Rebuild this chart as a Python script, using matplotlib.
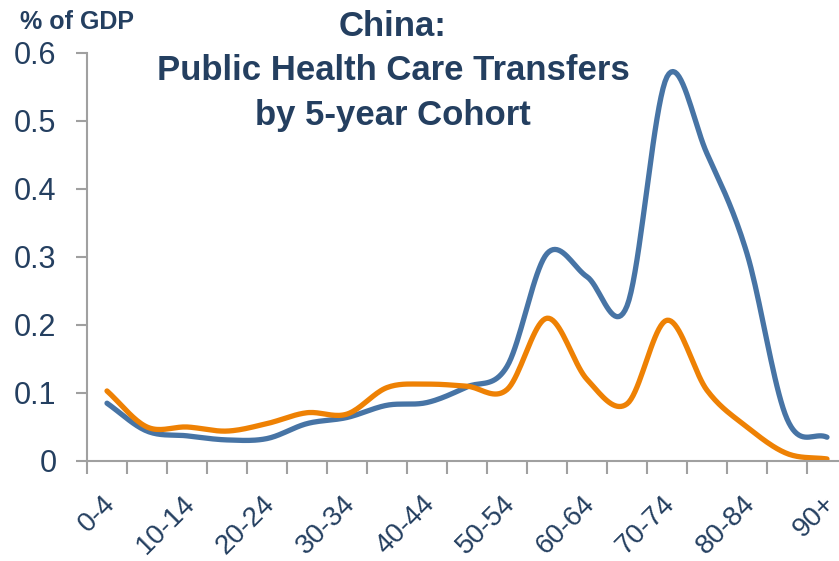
import numpy as np
import matplotlib
matplotlib.use("Agg")
import matplotlib.pyplot as plt
from matplotlib.transforms import ScaledTranslation

plt.rcParams['font.family'] = ['Liberation Sans', 'DejaVu Sans']

# age cohorts
cohorts = ['0-4', '5-9', '10-14', '15-19', '20-24', '25-29', '30-34', '35-39', '40-44', '45-49',
           '50-54', '55-59', '60-64', '65-69', '70-74', '75-79', '80-84', '85-89', '90+']
# blue series (% of GDP)
blue = [0.085, 0.044, 0.037, 0.031, 0.033, 0.055, 0.064, 0.082, 0.086, 0.109,
        0.139, 0.305, 0.271, 0.228, 0.565, 0.452, 0.305, 0.062, 0.035]
# orange series (% of GDP)
orange = [0.103, 0.050, 0.050, 0.044, 0.055, 0.071, 0.069, 0.108, 0.113, 0.110,
          0.105, 0.210, 0.120, 0.084, 0.207, 0.104, 0.050, 0.011, 0.003]

BLUE = '#4774A5'
ORANGE = '#EE8104'
NAVY = '#243F60'
GRID = '#A0A0A0'


def smooth(y, n=20):
    # catmull-rom curve through the points, like excel's smoothed line
    y = np.asarray(y, float)
    x = np.arange(len(y), dtype=float)
    px = np.concatenate([[2 * x[0] - x[1]], x, [2 * x[-1] - x[-2]]])
    py = np.concatenate([[2 * y[0] - y[1]], y, [2 * y[-1] - y[-2]]])
    xs, ys = [], []
    for i in range(1, len(px) - 2):
        t = np.linspace(0, 1, n, endpoint=False)
        for arr, out in ((px, xs), (py, ys)):
            p0, p1, p2, p3 = arr[i - 1], arr[i], arr[i + 1], arr[i + 2]
            out.append(0.5 * (2 * p1 + (-p0 + p2) * t + (2 * p0 - 5 * p1 + 4 * p2 - p3) * t ** 2
                              + (-p0 + 3 * p1 - 3 * p2 + p3) * t ** 3))
    xs.append([x[-1]])
    ys.append([y[-1]])
    return np.concatenate(xs), np.concatenate(ys)


fig = plt.figure(figsize=(8.39, 5.61), dpi=100)
ax = fig.add_axes([87 / 839, 100 / 561, 760 / 839, 408 / 561])

for ser, col in ((blue, BLUE), (orange, ORANGE)):
    sx, sy = smooth(ser)
    ax.plot(sx, sy, color=col, lw=3.8, solid_capstyle='round', clip_on=False)

ax.set_xlim(-0.5, len(cohorts) - 0.5)
ax.set_ylim(0, 0.6)
ax.set_yticks([0, 0.1, 0.2, 0.3, 0.4, 0.5, 0.6])
ax.set_yticklabels(['0', '0.1', '0.2', '0.3', '0.4', '0.5', '0.6'])

ax.set_xticks(np.arange(0, len(cohorts), 2))
ax.set_xticklabels(cohorts[::2], rotation=45, ha='right', va='center', rotation_mode='anchor')
ax.set_xticks(np.arange(-0.5, len(cohorts), 1), minor=True)
ax.tick_params(axis='x', which='major', length=0, pad=28, labelsize=20, labelcolor=NAVY)
ax.tick_params(axis='x', which='minor', length=9, width=1.5, color=GRID)
ax.tick_params(axis='y', length=8, width=1.5, color=GRID, labelsize=22, labelcolor=NAVY, pad=14)
shift = ScaledTranslation(4 / 100, 0, fig.dpi_scale_trans)
for lab in ax.get_xticklabels():
    lab.set_transform(lab.get_transform() + shift)

for s in ('top', 'right'):
    ax.spines[s].set_visible(False)
for s in ('left', 'bottom'):
    ax.spines[s].set_color(GRID)
    ax.spines[s].set_linewidth(1.5)

fig.text(20 / 839, 1 - 22 / 561, '% of GDP', fontsize=18, fontweight='bold', color=NAVY, va='center')
title_kw = dict(fontsize=25, fontweight='bold', color=NAVY, ha='center', va='center')
fig.text(393 / 839, 1 - 26 / 561, 'China:', **title_kw)
fig.text(393 / 839, 1 - 71 / 561, 'Public Health Care Transfers', **title_kw)
fig.text(393 / 839, 1 - 115 / 561, 'by 5-year Cohort', **title_kw)

fig.savefig('out.png', dpi=100)
